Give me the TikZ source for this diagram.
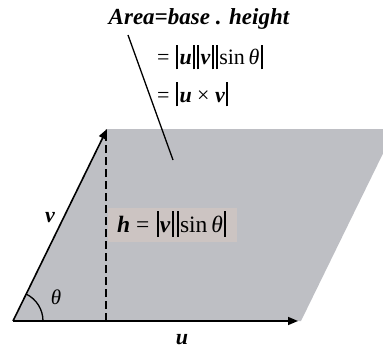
\documentclass[tikz,border=0pt]{standalone}
\usepackage{fontspec}
\setmainfont{Liberation Serif}
\usetikzlibrary{arrows.meta}
\definecolor{plane}{RGB}{190,191,196}
\definecolor{hbox}{RGB}{204,196,194}
\newcommand{\bi}[1]{\textbf{\textit{#1}}}
\newcommand{\vb}{\kern0.06em\rule[-0.2em]{0.08em}{1.1em}\kern0.06em}
\tikzset{
  vec/.style={line width=1.6pt,-{Triangle[length=10pt,width=8pt]}},
  lbl/.style={inner sep=0pt,font=\fontsize{22}{24}\selectfont},
  big/.style={inner sep=0pt,font=\fontsize{22}{24}\selectfont\bfseries\itshape}
}
\begin{document}
\begin{tikzpicture}[x=1pt,y=1pt]
\useasboundingbox (0,0) rectangle (383,349);
\coordinate (O) at (13,28);
\coordinate (V) at (107,220);
\coordinate (U) at (298,28);
\coordinate (F) at (106,28);
\coordinate (T) at (106,220);
% plane
\fill[plane] (O) -- (V) -- (383,220) -- (383,195.5) -- (301,28) -- cycle;
% h box
\fill[hbox] (108,107) rectangle (237,141);
\node[lbl,font=\fontsize{23.5}{26}\selectfont,anchor=base west] (hl) at (117,117) {\bi{h} = \vb\bi{v}\vb\vb sin\,\textit{θ}\vb};
% dashed height
\draw[line width=1.4pt,dash pattern=on 8pt off 4pt] (F) -- (T);
% vectors
\draw[vec] (O) -- (V);
\draw[vec] (O) -- (U);
% angle arc
\draw[line width=1.3pt] ([shift={(30,0)}]O) arc[start angle=0,end angle=63.9,radius=30];
\node[inner sep=0pt,font=\fontsize{21}{22}\selectfont\itshape] (th) at (56,52) {θ};
\node[big] (vl) at (50,131) {v};
\node[big,anchor=base] (ul) at (182,5) {u};
% formulas
\node[big,font=\fontsize{23}{26}\selectfont\bfseries\itshape,anchor=base] (area) at (199,324) {Area=base . height};
\node[lbl,anchor=base west] (l2) at (157,284) {= \vb\bi{u}\vb\vb\bi{v}\vb\vb sin\,\textit{θ}\vb};
\node[lbl,anchor=base west] (l3) at (157,247) {= \vb\bi{u} × \bi{v}\vb};
\coordinate (P1) at (128,314);
\coordinate (P2) at (173,189);
\draw[line width=1.3pt] (P1) -- (P2);
\end{tikzpicture}
\end{document}
